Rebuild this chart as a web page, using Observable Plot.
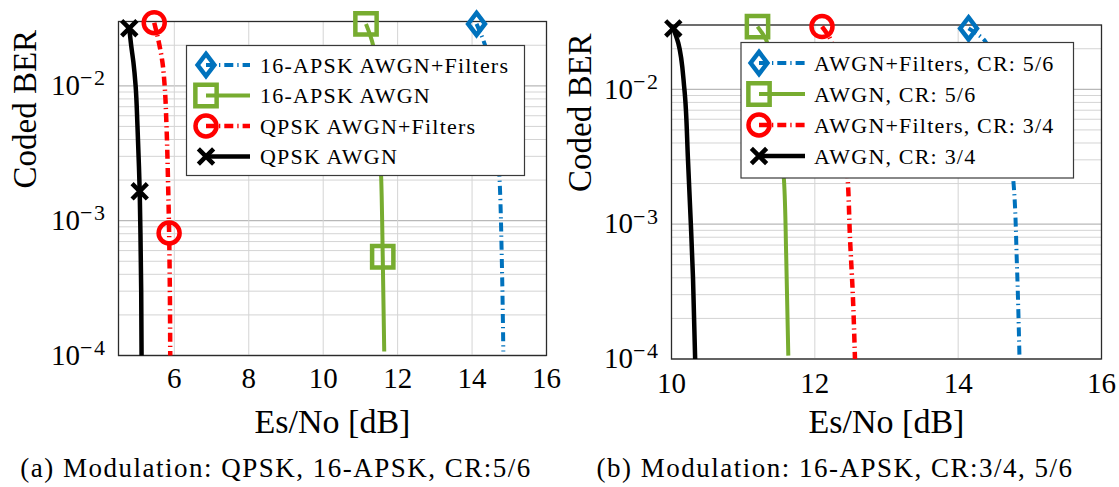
<!DOCTYPE html>
<html><head><meta charset="utf-8">
<script src="https://cdn.jsdelivr.net/npm/d3@7"></script>
<script src="https://cdn.jsdelivr.net/npm/@observablehq/plot@0.6"></script>
<style>
body{margin:0;background:#fff;}
#root{position:relative;width:1119px;height:487px;font-family:"Liberation Serif",serif;color:#000;overflow:hidden;}
.panel{position:absolute;top:0;}
.cap{position:absolute;top:452px;font-size:27px;letter-spacing:1.5px;white-space:nowrap;text-align:center;line-height:32px;}
</style></head><body><div id="root"></div>
<script>
// ---------- data ----------
const xTicksA = [6, 8, 10, 12, 14, 16];
const xTicksB = [10, 12, 14, 16];
const yTicks = [1e-2, 1e-3, 1e-4];
const yMinor = [2e-4,3e-4,4e-4,5e-4,6e-4,7e-4,8e-4,9e-4,2e-3,3e-3,4e-3,5e-3,6e-3,7e-3,8e-3,9e-3,2e-2,3e-2];

const namesA = ["16-APSK AWGN+Filters", "16-APSK AWGN", "QPSK AWGN+Filters", "QPSK AWGN"];
const namesB = ["AWGN+Filters, CR: 5/6", "AWGN, CR: 5/6", "AWGN+Filters, CR: 3/4", "AWGN, CR: 3/4"];
const captionA = "(a) Modulation: QPSK, 16-APSK, CR:5/6";
const captionB = "(b) Modulation: 16-APSK, CR:3/4, 5/6";

// panel (a) curves  [Es/No, BER]
const a_apskFilt = [[14.12,0.0288],[14.35,0.02],[14.55,0.01],[14.68,4e-3],[14.74,2e-3],[14.8,5e-4],[14.84,1.07e-4]];
const a_apskAwgn = [[11.15,0.0288],[11.34,0.02],[11.45,0.01],[11.52,4e-3],[11.56,2e-3],[11.6,5.4e-4],[11.64,1.07e-4]];
const a_qpskFilt = [[5.46,0.0294],[5.6,0.02],[5.68,0.015],[5.74,0.01],[5.79,5e-3],[5.83,2e-3],[5.86,8.1e-4],[5.88,3e-4],[5.89,1e-4]];
const a_qpskAwgn = [[4.79,0.0267],[4.84,0.02],[4.9,0.015],[4.96,0.01],[5.01,5e-3],[5.05,2.5e-3],[5.07,1.65e-3],[5.09,8e-4],[5.11,3e-4],[5.12,1e-4]];
// panel (a) marker points
const a_apskFiltMk = [[14.12,0.0288]];
const a_apskAwgnMk = [[11.15,0.0288],[11.6,5.4e-4]];
const a_qpskFiltMk = [[5.46,0.0294],[5.86,8.1e-4]];
const a_qpskAwgnMk = [[4.79,0.0267],[5.07,1.65e-3]];

// panel (b) curves
const b_filt56 = [[14.145,0.0283],[14.38,0.0226],[14.6,0.01],[14.71,4e-3],[14.77,2.1e-3],[14.82,5e-4],[14.855,1.06e-4]];
const b_awgn56 = [[11.2,0.0292],[11.33,0.0226],[11.45,0.01],[11.52,4e-3],[11.57,2.1e-3],[11.6,6e-4],[11.63,1.06e-4]];
const b_filt34 = [[12.1,0.0292],[12.23,0.0226],[12.35,0.01],[12.42,4e-3],[12.46,2.1e-3],[12.49,8e-4],[12.53,3e-4],[12.56,1e-4]];
const b_awgn34 = [[10.025,0.0283],[10.095,0.022],[10.18,0.01],[10.23,3e-3],[10.27,1e-3],[10.3,4e-4],[10.33,1e-4]];
const b_filt56Mk = [[14.145,0.0283]];
const b_awgn56Mk = [[11.2,0.0292]];
const b_filt34Mk = [[12.1,0.0292]];
const b_awgn34Mk = [[10.025,0.0283]];

// ---------- styles ----------
const tallDiamond = {draw(ctx, size){const r=Math.sqrt(size/Math.PI);const w=0.8*r,h=1.05*r;ctx.moveTo(0,-h);ctx.lineTo(w,0);ctx.lineTo(0,h);ctx.lineTo(-w,0);ctx.closePath();}};
const DASH = "9 4 1.3 4";
const styles = [
  {stroke:"#0072BD", width:4, dash:DASH, symbol:tallDiamond, r:10.5},
  {stroke:"#77AC30", width:4, dash:null, symbol:"square", r:12},
  {stroke:"#FF0000", width:4.5, dash:DASH, symbol:"circle", r:10.5},
  {stroke:"#000000", width:4.5, dash:null, symbol:"times", r:7}
];
const symMap = {square:d3.symbolSquare, circle:d3.symbolCircle, times:d3.symbolTimes};
const FONT = "Liberation Serif";

function panel(o){
  const X = d => d[0], Y = d => d[1];
  const marks = [
    Plot.ruleY(yMinor, {stroke:"#d4d4d4", strokeWidth:1}),
    Plot.ruleY(yTicks, {stroke:"#b8b8b8", strokeWidth:1.4}),
    Plot.ruleX(o.xTicks, {stroke:"#d4d4d4", strokeWidth:1}),
    Plot.axisX(o.xTicks, {tickSize:0, tickPadding:o.xPad, label:null, tickFormat:d=>String(d), fontSize:29}),
    Plot.axisY(yTicks, {tickSize:0, tickPadding:12, label:null, tickFormat:d=>"10^"+Math.round(Math.log10(d)), fontSize:29}),
    Plot.frame({stroke:"#2b2b2b", strokeWidth:1.3}),
    Plot.text(["Es/No [dB]"], {frameAnchor:"bottom", dy:o.xLabDy, fontSize:34, fontFamily:FONT}),
    Plot.text(["Coded BER"], {frameAnchor:"left", dx:o.yLabDx, rotate:-90, fontSize:33, fontFamily:FONT})
  ];
  const order = [3,2,1,0];
  for (const i of order){
    const s = styles[i];
    marks.push(Plot.line(o.curves[i], {x:X, y:Y, stroke:s.stroke, strokeWidth:s.width, strokeDasharray:s.dash, strokeLinecap:"butt", curve:"monotone-y"}));
    marks.push(Plot.dot(o.markers[i], {x:X, y:Y, symbol:s.symbol, r:s.r, stroke:s.stroke, strokeWidth:4.5, fill:"none"}));
  }
  const svg = Plot.plot({
    width:o.width, height:487,
    marginLeft:o.ml, marginRight:o.mr, marginTop:o.mt, marginBottom:487-o.bottom,
    x:{domain:o.xDomain},
    y:{type:"log", domain:[1e-4, 3e-2]},
    style:{fontFamily:FONT, fontSize:"29px", color:"#000", background:"transparent", overflow:"visible"},
    marks
  });
  const s = d3.select(svg);
  s.selectAll('g[aria-label="y-axis tick label"] text').each(function(){
    const t = d3.select(this); const parts = t.text().split("^");
    t.text(parts[0]);
    t.append("tspan").attr("dy","-0.45em").attr("font-size","22px").style("letter-spacing","1.5px").text(parts[1].replace("-","\u2212"));
  });
  // legend
  const L = o.legend;
  const g = s.append("g").attr("font-family", FONT).attr("font-size", "22px").attr("text-anchor","start");
  g.append("rect").attr("x",L.x).attr("y",L.y).attr("width",L.w).attr("height",L.h)
    .attr("fill","#fff").attr("stroke","#3a3a3a").attr("stroke-width",1.2);
  o.names.forEach((name, i) => {
    const st = styles[i]; const yy = L.y + L.first + i*L.step;
    g.append("line").attr("x1",L.mx).attr("x2",L.lx).attr("y1",yy).attr("y2",yy)
      .attr("stroke",st.stroke).attr("stroke-width",st.width).attr("stroke-dasharray",st.dash).attr("stroke-linecap","butt");
    const type = typeof st.symbol === "string" ? symMap[st.symbol] : st.symbol;
    g.append("path").attr("d", d3.symbol(type, Math.PI*st.r*st.r)()).attr("transform",`translate(${L.mx},${yy})`)
      .attr("fill","none").attr("stroke",st.stroke).attr("stroke-width",4.5);
    g.append("text").attr("x",L.tx).attr("y",yy).attr("dy","0.35em").style("letter-spacing",L.ls).text(name);
  });
  return svg;
}

const root = document.getElementById("root");
const A = panel({width:560, ml:118, mr:14, mt:21, bottom:355, xDomain:[4.5,16], xTicks:xTicksA, xPad:12, xLabDy:77, yLabDx:-93,
  curves:[a_apskFilt,a_apskAwgn,a_qpskFilt,a_qpskAwgn], markers:[a_apskFiltMk,a_apskAwgnMk,a_qpskFiltMk,a_qpskAwgnMk],
  names:namesA, legend:{x:186.5,y:45.5,w:338,h:130,first:19.5,step:30.5,mx:206,lx:250,tx:260,ls:"1.2px"}});
A.classList.add("panel"); A.style.left="0px"; root.appendChild(A);
const B = panel({width:559, ml:111, mr:18, mt:24.5, bottom:358.5, xDomain:[10,16], xTicks:xTicksB, xPad:13, xLabDy:74, yLabDx:-91,
  curves:[b_filt56,b_awgn56,b_filt34,b_awgn34], markers:[b_filt56Mk,b_awgn56Mk,b_filt34Mk,b_awgn34Mk],
  names:namesB, legend:{x:181,y:42.5,w:332.5,h:135.5,first:20.5,step:31,mx:199,lx:245,tx:254,ls:"1.2px"}});
B.classList.add("panel"); B.style.left="560px"; root.appendChild(B);

const ca = document.createElement("div"); ca.className="cap"; ca.style.left="0px"; ca.style.width="552px"; ca.textContent=captionA; root.appendChild(ca);
const cb = document.createElement("div"); cb.className="cap"; cb.style.left="560px"; cb.style.width="550px"; cb.textContent=captionB; root.appendChild(cb);
</script></body></html>
